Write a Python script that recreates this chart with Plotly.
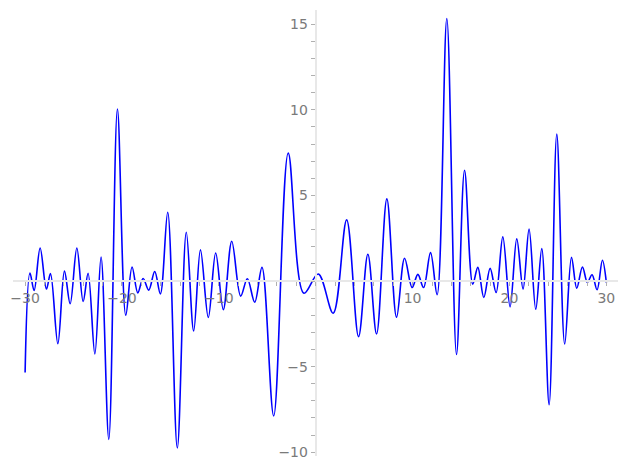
import plotly.graph_objects as go

# Points (local extrema and end points)
x_vals = [-30.0, -29.5, -29.07, -28.45, -27.8, -27.38, -26.62, -25.94, -25.35, -24.66,
          -24.01, -23.5, -22.8, -22.16, -21.36, -20.47, -19.61, -18.96, -18.37, -17.82,
          -17.24, -16.62, -16.04, -15.28, -14.29, -13.36, -12.6, -11.9, -11.09, -10.33,
          -9.54, -8.67, -7.75, -7.06, -6.3, -5.55, -4.34, -2.84, -1.22, 0.26,
          1.8, 3.19, 4.42, 5.38, 6.28, 7.34, 8.34, 9.17, 9.95, 10.54,
          11.13, 11.85, 12.53, 13.53, 14.53, 15.36, 16.21, 16.73, 17.35, 18.0,
          18.62, 19.31, 20.06, 20.75, 21.4, 22.02, 22.71, 23.33, 24.09, 24.88,
          25.7, 26.4, 26.94, 27.53, 28.04, 28.52, 29.04, 29.59, 30.0]
y_vals = [-5.34, 0.46, -0.55, 1.93, -0.47, 0.43, -3.66, 0.58, -1.33, 1.93,
          -1.2, 0.45, -4.26, 1.4, -9.25, 10.05, -2.0, 0.82, -0.69, 0.15,
          -0.53, 0.56, -0.75, 4.02, -9.75, 2.85, -2.92, 1.82, -2.13, 1.64,
          -1.67, 2.32, -0.88, 0.13, -1.24, 0.8, -7.88, 7.47, -0.71, 0.41,
          -1.88, 3.57, -3.25, 1.56, -3.09, 4.8, -2.12, 1.33, -0.38, 0.39,
          -0.38, 1.66, -0.8, 15.33, -4.29, 6.47, -0.18, 0.8, -0.96, 0.74,
          -0.67, 2.58, -1.51, 2.46, -0.47, 3.03, -1.65, 1.89, -7.22, 8.58,
          -3.68, 1.38, -0.42, 0.82, -0.08, 0.37, -0.51, 1.21, -0.1]

x_ticks = [-30, -20, -10, 10, 20, 30]
y_ticks = [-10, -5, 5, 10, 15]

x_range = [-31.25, 31.2]
y_range = [-10.22, 15.83]

fig = go.Figure()
fig.add_trace(go.Scatter(x=x_vals, y=y_vals, mode="lines",
                         line=dict(color="#0000ff", width=1.6, shape="spline", smoothing=1.0),
                         showlegend=False, hoverinfo="skip"))

axis_col = "#e8e8e8"
tick_col = "#b0b0b0"
lab_font = dict(family="DejaVu Sans", size=14, color="#7a7a7a")

x_pos = (0 - y_range[0]) / (y_range[1] - y_range[0])
y_pos = (0 - x_range[0]) / (x_range[1] - x_range[0])

fig.update_layout(
    width=627, height=469, autosize=False,
    margin=dict(l=13, r=9, t=10, b=13),
    plot_bgcolor="white", paper_bgcolor="white",
    xaxis=dict(range=x_range, anchor="free", position=x_pos, automargin=False,
               showline=True, linecolor=axis_col, linewidth=2,
               showgrid=False, zeroline=False,
               tickmode="array", tickvals=x_ticks, ticktext=[str(v).replace("-", "\u2212") for v in x_ticks],
               ticks="outside", ticklen=4, tickcolor=tick_col, tickwidth=1,
               tickfont=lab_font,
               minor=dict(tickmode="linear", tick0=0, dtick=2, ticks="outside", ticklen=4,
                          tickcolor=tick_col, tickwidth=1, showgrid=False)),
    yaxis=dict(range=y_range, anchor="free", position=y_pos, automargin=False,
               showline=True, linecolor=axis_col, linewidth=2,
               showgrid=False, zeroline=False,
               tickmode="array", tickvals=y_ticks, ticktext=[str(v).replace("-", "\u2212") for v in y_ticks],
               ticks="outside", ticklen=4, tickcolor=tick_col, tickwidth=1,
               tickfont=lab_font,
               minor=dict(tickmode="linear", tick0=0, dtick=1, ticks="outside", ticklen=4,
                          tickcolor=tick_col, tickwidth=1, showgrid=False)),
)

fig.write_html("out.html", config={"displayModeBar": False},
               post_script="document.body.style.margin='0';")
